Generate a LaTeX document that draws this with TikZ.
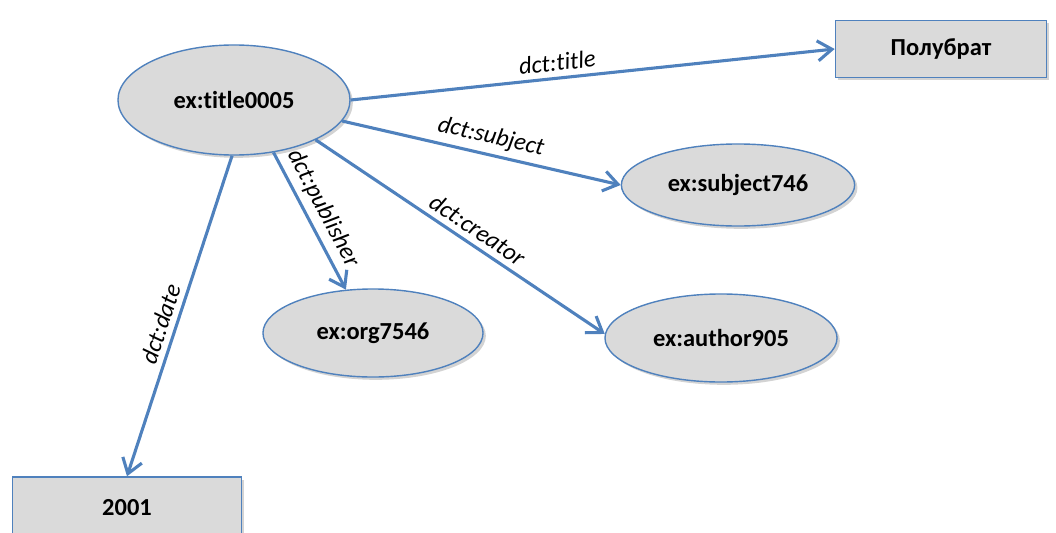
\documentclass[tikz,border=0pt]{standalone}
\usepackage{fontspec}
\setmainfont{Carlito}[Ligatures={NoCommon}]
\usepackage{xcolor}
\usetikzlibrary{arrows.meta,positioning,shapes.geometric,shadows}
\definecolor{linkblue}{RGB}{79,129,189}
\definecolor{nodegray}{RGB}{218,218,218}

\begin{document}
\begin{tikzpicture}[
    x=0.025cm, y=-0.025cm,
    res/.style={ellipse, draw=linkblue, fill=nodegray, line width=1pt,
                inner sep=0pt, font=\fontsize{17.4}{20}\selectfont\bfseries,
                drop shadow={shadow xshift=2pt, shadow yshift=-2pt, opacity=.35}},
    lit/.style={rectangle, draw=linkblue, fill=nodegray, line width=1pt,
                inner sep=0pt, font=\fontsize{17.4}{20}\selectfont\bfseries,
                drop shadow={shadow xshift=2pt, shadow yshift=-2pt, opacity=.35}},
    arr/.style={-{Straight Barb[length=3.6mm, width=5mm]}, line width=2.2pt, linkblue},
    lbl/.style={font=\fontsize{17.4}{20}\selectfont\itshape, text=black,
                sloped, above, inner sep=4pt}
  ]
    \useasboundingbox (0,0) rectangle (1056,532);
    \node[res, minimum width=5.8cm, minimum height=2.75cm] (t) at (234,100) {ex:title0005};
    \node[lit, minimum width=5.28cm, minimum height=1.43cm] (p) at (941,49) {Полубрат};
    \node[res, minimum width=5.83cm, minimum height=2.05cm] (s) at (738,185) {ex:subject746};
    \node[res, minimum width=5.5cm, minimum height=2.2cm] (o) at (373,333) {ex:org7546};
    \node[res, minimum width=5.8cm, minimum height=2.2cm] (a) at (721,338) {ex:author905};
    \node[lit, minimum width=5.73cm, minimum height=1.55cm] (d) at (127,508) {2001};
    % edges
    \draw[arr] (t.east) -- node[lbl, pos=0.43] {dct:title} (p.west);
    \draw[arr] (t.-11) -- node[lbl, pos=0.52] {dct:subject} (s.west);
    \draw[arr] (t.-26) -- node[lbl, pos=0.53] {dct:creator} (a.178);
    \draw[arr] (t.-53) -- node[lbl, pos=0.47] {dct:publisher} (o.122);
    \draw[arr] (t.268) -- node[lbl, pos=0.54] {dct:date} (d.north);
\end{tikzpicture}
\end{document}
